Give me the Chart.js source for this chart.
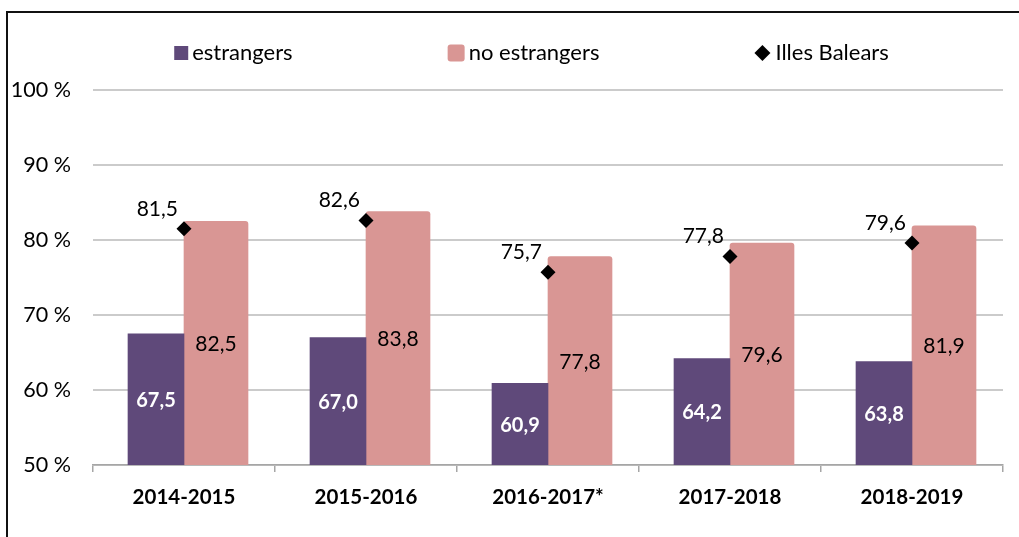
<!DOCTYPE html>
<html>
<head>
<meta charset="utf-8">
<script src="https://cdn.jsdelivr.net/npm/chart.js@4/dist/chart.umd.min.js"></script>
<style>
  html, body { margin: 0; padding: 0; background: #fff; overflow: hidden; }
  #wrap { position: relative; width: 1019px; height: 537px; }
  #marc { position: absolute; left: 6px; top: 11px; width: 1100px; height: 700px; border: 2px solid #111; box-sizing: border-box; }
  #grafic { position: absolute; left: 0; top: 0; }
</style>
</head>
<body>
<div id="wrap">
  <div id="marc"></div>
  <canvas id="grafic" width="1019" height="537"></canvas>
</div>
<script>
// dades
var cursos = ['2014-2015', '2015-2016', '2016-2017*', '2017-2018', '2018-2019'];
var estrangers = [67.5, 67.0, 60.9, 64.2, 63.8];
var noEstrangers = [82.5, 83.8, 77.8, 79.6, 81.9];
var illesBalears = [81.5, 82.6, 75.7, 77.8, 79.6];
var ticksY = [50, 60, 70, 80, 90, 100];

var colorEstr = '#5F497A';
var colorNoEstr = '#D99694';

Chart.defaults.font.family = 'Lato, "DejaVu Sans", sans-serif';
Chart.defaults.color = '#000';

function coma(v) {
  return v.toFixed(1).replace('.', ',');
}

// etiquetes de valors
var etiquetes = {
  id: 'etiquetes',
  afterDatasetsDraw: function(chart) {
    var ctx = chart.ctx;
    var baix = chart.chartArea.bottom;
    ctx.save();
    chart.data.datasets.forEach(function(ds, i) {
      var meta = chart.getDatasetMeta(i);
      meta.data.forEach(function(el, j) {
        var v = ds.data[j];
        if (ds.type === 'line') {
          ctx.font = '21px Lato';
          ctx.fillStyle = '#000';
          ctx.textAlign = 'right';
          ctx.textBaseline = 'middle';
          ctx.fillText(coma(v), el.x - 6, el.y - 20);
        } else {
          var y = (el.y + Math.min(el.base, baix)) / 2;
          ctx.textAlign = 'center';
          ctx.textBaseline = 'middle';
          if (i === 1) {
            ctx.font = 'bold 20px Lato';
            ctx.fillStyle = '#fff';
          } else {
            ctx.font = '21px Lato';
            ctx.fillStyle = '#000';
          }
          ctx.fillText(coma(v), el.x, y + 1);
        }
      });
    });
    ctx.restore();
  }
};

// llegenda dibuixada a ma (els elements estan molt separats)
var llegenda = {
  id: 'llegenda',
  afterDraw: function(chart) {
    var ctx = chart.ctx;
    var items = [
      { text: 'estrangers', tipus: 'quadrat', color: colorEstr, mida: 14 },
      { text: 'no estrangers', tipus: 'quadrat', color: colorNoEstr, mida: 17 },
      { text: 'Illes Balears', tipus: 'diamant', color: '#000', mida: 16 }
    ];
    var caixa = 17, sep = 4, buit = 155, cy = 53;
    ctx.save();
    ctx.font = '22px Lato';
    var total = 0;
    items.forEach(function(it) {
      it.w = caixa + sep + ctx.measureText(it.text).width;
      total += it.w;
    });
    total += buit * (items.length - 1);
    var x = 530 - total / 2;
    items.forEach(function(it) {
      ctx.fillStyle = it.color;
      var m = it.mida;
      if (it.tipus === 'quadrat') {
        ctx.beginPath();
        ctx.roundRect(x + caixa - m, cy - m / 2, m, m, m > 15 ? 3 : 0);
        ctx.fill();
      } else {
        ctx.beginPath();
        ctx.moveTo(x + 8, cy - 8);
        ctx.lineTo(x + 16, cy);
        ctx.lineTo(x + 8, cy + 8);
        ctx.lineTo(x, cy);
        ctx.closePath();
        ctx.fill();
      }
      ctx.fillStyle = '#000';
      ctx.textAlign = 'left';
      ctx.textBaseline = 'middle';
      ctx.fillText(it.text, x + caixa + sep, cy);
      x += it.w + buit;
    });
    ctx.restore();
  }
};

var ctx = document.getElementById('grafic').getContext('2d');
var grafic = new Chart(ctx, {
  type: 'bar',
  data: {
    labels: cursos,
    datasets: [
      {
        type: 'line',
        label: 'Illes Balears',
        data: illesBalears,
        showLine: false,
        pointStyle: 'rectRot',
        pointRadius: 7.5,
        pointHoverRadius: 7.5,
        backgroundColor: '#000',
        borderColor: '#000',
        borderWidth: 0,
        order: 0
      },
      {
        label: 'estrangers',
        data: estrangers,
        backgroundColor: colorEstr,
        barThickness: 56,
        order: 1
      },
      {
        label: 'no estrangers',
        data: noEstrangers,
        backgroundColor: colorNoEstr,
        barThickness: 64,
        borderRadius: { topLeft: 3, topRight: 3 },
        borderSkipped: 'bottom',
        order: 1
      }
    ]
  },
  options: {
    responsive: false,
    animation: false,
    layout: { padding: { top: 90, right: 16, left: 0, bottom: 0 } },
    plugins: {
      legend: { display: false },
      tooltip: { enabled: false },
      title: { display: false }
    },
    scales: {
      x: {
        offset: true,
        grid: {
          offset: true,
          drawOnChartArea: false,
          drawTicks: true,
          tickLength: 7,
          color: '#a6a6a6',
          lineWidth: 1.5
        },
        border: { display: true, color: '#a6a6a6', width: 1.5 },
        ticks: {
          padding: 13,
          font: { size: 20.5, weight: 'bold' },
          color: '#000'
        },
        afterFit: function(scale) { scale.height = 72; }
      },
      y: {
        min: 50,
        max: 100,
        afterBuildTicks: function(scale) {
          scale.ticks = ticksY.map(function(v) { return { value: v }; });
        },
        grid: {
          drawTicks: false,
          color: '#cbcbcb',
          lineWidth: 2
        },
        border: { display: false },
        ticks: {
          padding: 22,
          font: { size: 21.5 },
          color: '#000',
          callback: function(v) { return v + ' %'; }
        },
        afterFit: function(scale) { scale.width = 93; }
      }
    }
  },
  plugins: [etiquetes, llegenda]
});
</script>
</body>
</html>
